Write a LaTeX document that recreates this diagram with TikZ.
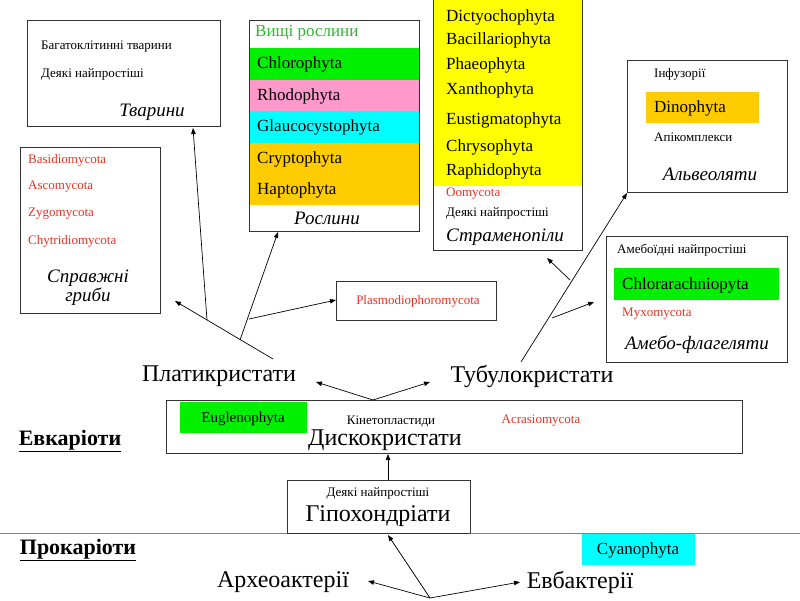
\documentclass[tikz,border=0pt]{standalone}
\usepackage{fontspec}
\setmainfont{Liberation Serif}
\usetikzlibrary{arrows.meta}
\definecolor{cgreen}{RGB}{0,240,0}
\definecolor{cpink}{RGB}{255,153,204}
\definecolor{ccyan}{RGB}{0,255,255}
\definecolor{corange}{RGB}{255,204,0}
\definecolor{cyel}{RGB}{255,255,0}
\definecolor{cred}{RGB}{235,50,35}
\definecolor{tgreen}{RGB}{50,180,50}
\tikzset{
 box/.style={draw=black!80,line width=0.8pt},
 sm/.style={anchor=west,inner sep=0,font=\fontsize{13}{13}\selectfont},
 md/.style={anchor=west,inner sep=0,font=\fontsize{17}{17}\selectfont},
 ttl/.style={inner sep=0,font=\fontsize{19}{19}\selectfont\itshape},
 big/.style={inner sep=0,font=\fontsize{24}{24}\selectfont},
 hd/.style={inner sep=0,font=\fontsize{22}{22}\selectfont\bfseries},
 arr/.style={-{Triangle[length=6pt,width=4.5pt]},line width=0.7pt},
 ln/.style={line width=0.7pt}
}
\begin{document}
\begin{tikzpicture}[x=1pt,y=-1pt]
\useasboundingbox[fill=white] (0,0) rectangle (800,600);
% Tvaryny
\draw[box] (27,20) rectangle (220,126);
\node[sm] (t1) at (41,47) {Багатоклітинні тварини};
\node[sm] (t2) at (41,74) {Деякі найпростіші};
\node[ttl] (tv) at (152,112) {Тварини};
% Fungi
\draw[box] (20,147) rectangle (160,313);
\node[sm,text=cred] at (28,160) {Basidiomycota};
\node[sm,text=cred] at (28,187) {Ascomycota};
\node[sm,text=cred] at (28,214) {Zygomycota};
\node[sm,text=cred] at (28,241) {Chytridiomycota};
\node[ttl] at (88,278) {Справжні};
\node[ttl] at (88,297) {гриби};
% Plants
\fill[cgreen] (249,48) rectangle (419,80);
\fill[cpink] (249,80) rectangle (419,111);
\fill[ccyan] (249,111) rectangle (419,143);
\fill[corange] (249,143) rectangle (419,205);
\draw[box] (249,20) rectangle (419,231);
\node[md,text=tgreen] at (255,33) {Вищі рослини};
\node[md] at (257,64) {Chlorophyta};
\node[md] at (257,96) {Rhodophyta};
\node[md] at (257,127) {Glaucocystophyta};
\node[md] at (257,159) {Cryptophyta};
\node[md] at (257,190) {Haptophyta};
\node[ttl] at (327,218) {Рослини};
% Stramenopiles
\fill[cyel] (433,0) rectangle (582,186);
\draw[box] (433,-2) rectangle (582,250);
\node[md] at (446,17) {Dictyochophyta};
\node[md] at (446,40) {Bacillariophyta};
\node[md] at (446,65) {Phaeophyta};
\node[md] at (446,90) {Xanthophyta};
\node[md] at (446,120) {Eustigmatophyta};
\node[md] at (446,147) {Chrysophyta};
\node[md] at (446,171) {Raphidophyta};
\node[sm,text=cred] at (446,194) {Oomycota};
\node[sm] at (446,213) {Деякі найпростіші};
\node[ttl,anchor=west] at (446,237) {Страменопіли};
% Alveolates
\draw[box] (627,60) rectangle (787,192);
\node[sm] at (654,74) {Інфузорії};
\fill[corange] (646,92) rectangle (759,123);
\node[md] at (654,108) {Dinophyta};
\node[sm] at (654,137) {Апікомплекси};
\node[ttl] at (710,174) {Альвеоляти};
% Amoebo
\draw[box] (606,236) rectangle (787,362);
\node[sm] at (617,250) {Амебоїдні найпростіші};
\fill[cgreen] (614,268) rectangle (779,300);
\node[md] at (622,285) {Chlorarachniopyta};
\node[sm,text=cred] at (622,314) {Myxomycota};
\node[ttl] at (697,345) {Амебо-флагеляти};
% Plasmodio
\draw[box] (336,281) rectangle (496,320);
\node[sm,text=cred,anchor=center] (pl) at (418,301) {Plasmodiophoromycota};
% middle
\node[big] (plat) at (219,376) {Платикристати};
\node[big] (tub) at (532,376) {Тубулокристати};
\draw[box] (166,400) rectangle (742,453);
\fill[cgreen] (180,402) rectangle (307,433);
\node[sm,anchor=center,font=\fontsize{15}{15}\selectfont] at (243,419) {Euglenophyta};
\node[sm,anchor=center] at (391,421) {Кінетопластиди};
\node[sm,anchor=center,text=cred] at (541,421) {Acrasiomycota};
\node[big] (disc) at (385,440) {Дискокристати};
\node[hd] (eu) at (70,441) {\underline{Евкаріоти}};
\draw[box] (287,480) rectangle (470,533);
\node[sm,anchor=center] at (378,493) {Деякі найпростіші};
\node[big] (hyp) at (378,516) {Гіпохондріати};
\draw[black!50,line width=0.8pt] (0,533) -- (287,533) (470,533) -- (800,533);
\node[hd] (pro) at (78,550) {\underline{Прокаріоти}};
\fill[ccyan] (582,534) rectangle (695,565);
\node[md,anchor=center] at (638,550) {Cyanophyta};
\node[big] (arch) at (283,582) {Археоактерії};
\node[big] (eub) at (580,582) {Евбактерії};
% connectors
\coordinate (r) at (430,598);
\coordinate (ha) at (388,535);
\coordinate (ht) at (388,480);
\coordinate (db) at (388,454);
\coordinate (dt) at (373,400);
\draw[arr] (r) -- (368,581);
\draw[arr] (r) -- (520,582);
\draw[arr] (r) -- (ha);
\draw[arr] (ht) -- (db);
\draw[arr] (dt) -- (316,382);
\draw[arr] (dt) -- (430,382);
% platy branches
\coordinate (p0) at (273,359);
\coordinate (pa) at (207,320);
\coordinate (pb) at (240,340);
\coordinate (pc) at (249,319);
\draw[arr] (p0) -- (175,301);
\draw[arr] (pa) -- (193,128);
\draw[arr] (pb) -- (278,232);
\draw[arr] (pc) -- (336,300);
% tubulo branches
\coordinate (q0) at (521,362);
\coordinate (qa) at (570,280);
\coordinate (qb) at (552,318);
\draw[arr] (q0) -- (627,193);
\draw[arr] (qa) -- (547,258);
\draw[arr] (qb) -- (594,302);
\end{tikzpicture}
\end{document}
